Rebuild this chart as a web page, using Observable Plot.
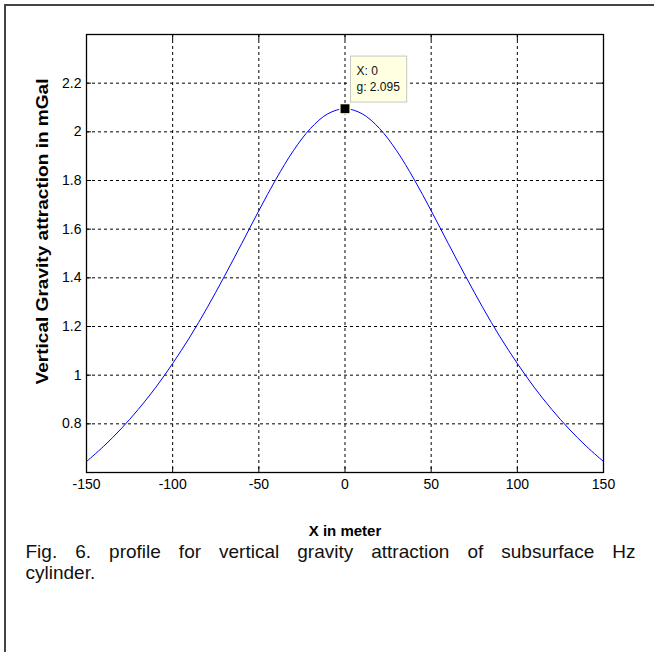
<!DOCTYPE html>
<html>
<head>
<meta charset="utf-8">
<script src="https://cdn.jsdelivr.net/npm/d3@7"></script>
<script src="https://cdn.jsdelivr.net/npm/@observablehq/plot@0.6"></script>
<style>
html, body { margin: 0; padding: 0; background: #fff; }
#page { position: relative; width: 654px; height: 652px; overflow: hidden; background: #fff; }
#border { position: absolute; left: 4px; top: 4px; width: 800px; height: 800px; border-left: 2px solid #444; border-top: 2px solid #444; }
#chart { position: absolute; left: 0; top: 0; }
#caption { position: absolute; left: 25.5px; top: 541px; width: 610px; font-family: "Liberation Sans", Arial, sans-serif; font-size: 19px; line-height: 21px; color: #111; }
#caption .line { white-space: nowrap; }
#caption .just { text-align: justify; text-align-last: justify; white-space: normal; }
</style>
</head>
<body>
<div id="page"><div id="border"></div><div id="chart"></div><div id="caption"></div></div>
<script>
// Distance along profile (m)
const xValues = [-150, -140, -130, -120, -110, -100, -90, -80, -70, -60, -50, -40, -30, -20, -10, 0,
                 10, 20, 30, 40, 50, 60, 70, 80, 90, 100, 110, 120, 130, 140, 150];
// Vertical gravity attraction (mGal)
const gValues = [0.645, 0.708, 0.779, 0.859, 0.948, 1.048, 1.157, 1.277, 1.406, 1.540, 1.676, 1.806, 1.922, 2.014, 2.074, 2.095,
                 2.074, 2.014, 1.922, 1.806, 1.676, 1.540, 1.406, 1.277, 1.157, 1.048, 0.948, 0.859, 0.779, 0.708, 0.645];
const xTicks = [-150, -100, -50, 0, 50, 100, 150];
const yTicks = [0.8, 1, 1.2, 1.4, 1.6, 1.8, 2, 2.2];
const xDomain = [-150, 150];
const yDomain = [0.6, 2.4];
// Data tip
const tipX = [0];
const tipG = [2.095];
const xLabel = "X in meter";
const yLabel = "Vertical Gravity attraction in mGal";
const captionLines = ["Fig. 6. profile for vertical gravity attraction of subsurface Hz", "cylinder."];

const data = xValues.map((x, i) => ({x, g: gValues[i]}));
const tip = tipX.map((x, i) => ({x, g: tipG[i], label: `X: ${x}\ng: ${tipG[i].toFixed(3)}`}));

const font = "'Liberation Sans', Arial, sans-serif";
const noText = () => "";

const chart = Plot.plot({
  width: 654,
  height: 545,
  marginLeft: 86,
  marginRight: 51,
  marginTop: 34,
  marginBottom: 73,
  style: { fontFamily: font, background: "transparent", color: "#000" },
  x: { domain: xDomain, ticks: xTicks, label: null },
  y: { domain: yDomain, ticks: yTicks, label: null },
  marks: [
    Plot.gridX(xTicks, { stroke: "#000", strokeOpacity: 1, strokeDasharray: "3,3", strokeWidth: 1 }),
    Plot.gridY(yTicks, { stroke: "#000", strokeOpacity: 1, strokeDasharray: "3,3", strokeWidth: 1 }),
    // inward ticks on all four sides
    Plot.axisX(xTicks, { anchor: "bottom", tickSize: -5, tickFormat: noText, label: null }),
    Plot.axisX(xTicks, { anchor: "top", tickSize: -5, tickFormat: noText, label: null }),
    Plot.axisY(yTicks, { anchor: "left", tickSize: -5, tickFormat: noText, label: null }),
    Plot.axisY(yTicks, { anchor: "right", tickSize: -5, tickFormat: noText, label: null }),
    // tick labels
    Plot.axisX(xTicks, { anchor: "bottom", tickSize: 0, tickPadding: 7, fontSize: 14, label: null, tickFormat: d => String(d) }),
    Plot.axisY(yTicks, { anchor: "left", tickSize: 0, tickPadding: 5, fontSize: 14, label: null, tickFormat: d => String(d) }),
    Plot.frame({ stroke: "#000", strokeWidth: 1.3 }),
    Plot.line(data, { x: "x", y: "g", stroke: "#0000ff", strokeWidth: 1, curve: "catmull-rom" }),
    Plot.text([xLabel], { frameAnchor: "bottom", dy: 63, fontSize: 15, fontWeight: "bold", fill: "#000" }),
    Plot.text([yLabel], { frameAnchor: "left", textAnchor: "middle", dx: -44, dy: -22, rotate: -90, fontSize: 16, fontWeight: "bold", fill: "#000" }),
    // data tip marker
    Plot.dot(tip, { x: "x", y: "g", symbol: "square", r: 6.6, fill: "#ffffe1", stroke: "none" }),
    Plot.dot(tip, { x: "x", y: "g", symbol: "square", r: 5, fill: "#000", stroke: "none" }),
    Plot.text(tip, { x: "x", y: "g", text: "label", textAnchor: "start", lineAnchor: "top", lineHeight: 1.333, dx: 11.5, dy: -45, fontSize: 12, fill: "#111" })
  ]
});

document.getElementById("chart").appendChild(chart);

const ns = "http://www.w3.org/2000/svg";
chart.querySelectorAll("text").forEach(t => {
  // stretch the y label to the reference's length
  if (t.textContent === yLabel) {
    t.setAttribute("textLength", 306);
    t.setAttribute("lengthAdjust", "spacingAndGlyphs");
  }
  // background box behind the data tip text, sized from the rendered text
  if (!t.textContent.startsWith("X:")) return;
  const b = t.getBBox();
  const rect = document.createElementNS(ns, "rect");
  rect.setAttribute("x", b.x - 6);
  rect.setAttribute("y", b.y - 8);
  rect.setAttribute("width", b.width + 12.5);
  rect.setAttribute("height", b.height + 16);
  rect.setAttribute("fill", "#ffffe1");
  rect.setAttribute("stroke", "#c8c8c0");
  rect.setAttribute("stroke-width", "1");
  const g = t.parentNode;
  g.parentNode.insertBefore(rect, g);
  if (t.getAttribute("transform")) rect.setAttribute("transform", t.getAttribute("transform"));
  if (g.getAttribute("transform")) rect.setAttribute("transform", (g.getAttribute("transform") + " " + (t.getAttribute("transform") || "")).trim());
});

const cap = document.getElementById("caption");
captionLines.forEach((s, i) => {
  const d = document.createElement("div");
  d.className = i < captionLines.length - 1 ? "line just" : "line";
  d.textContent = s;
  cap.appendChild(d);
});
</script>
</body>
</html>
